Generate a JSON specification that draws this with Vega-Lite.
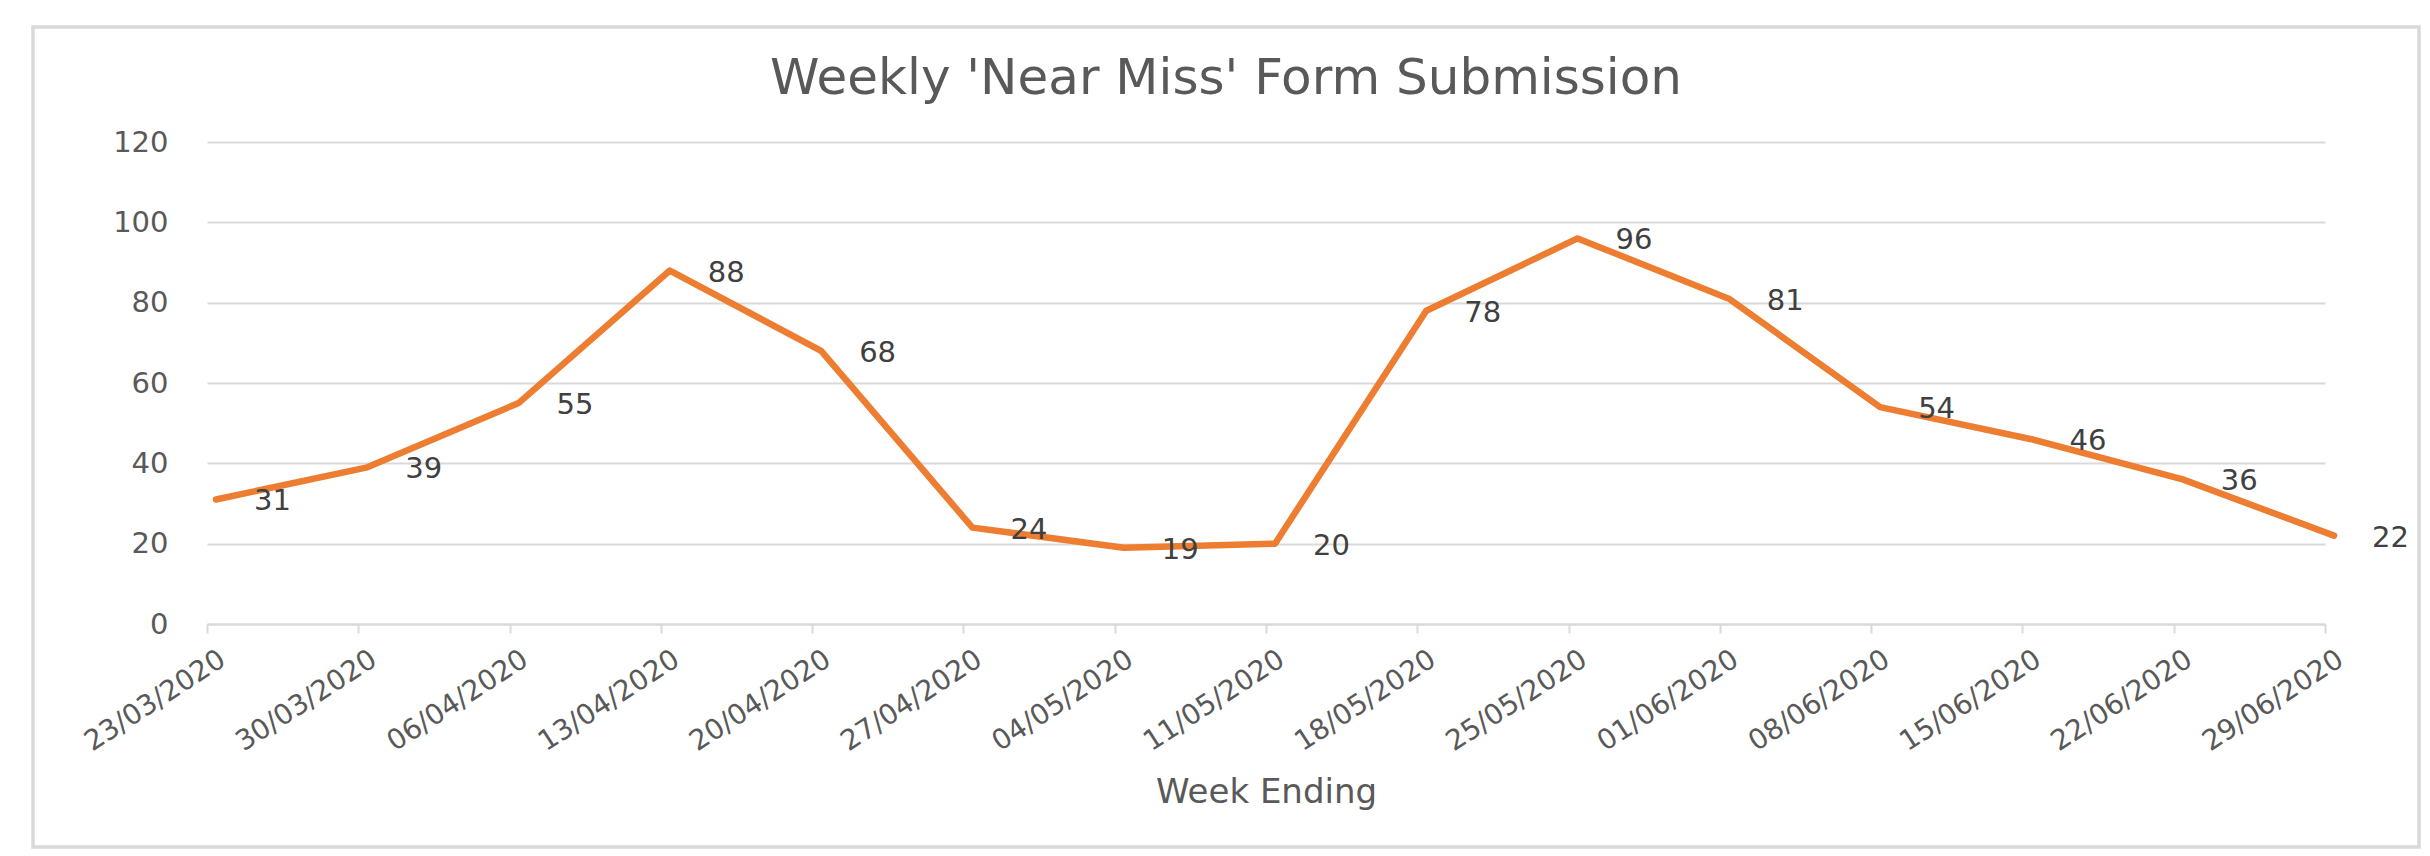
{
  "$schema": "https://vega.github.io/schema/vega-lite/v6.json",
  "autosize": {"type": "none"},
  "width": 2386,
  "height": 820,
  "padding": {"left": 33, "top": 27, "right": 11, "bottom": 9},
  "background": "white",
  "title": {
    "text": "Weekly 'Near Miss' Form Submission",
    "anchor": "middle",
    "frame": "group",
    "offset": -117,
    "baseline": "alphabetic",
    "font": "DejaVu Sans",
    "fontSize": 50,
    "fontWeight": "normal",
    "color": "#595959"
  },
  "config": {
    "font": "DejaVu Sans",
    "view": {"stroke": "#D9D9D9", "strokeWidth": 3.5}
  },
  "data": {
    "values": [
      {"week": "23/03/2020", "count": 31},
      {"week": "30/03/2020", "count": 39},
      {"week": "06/04/2020", "count": 55},
      {"week": "13/04/2020", "count": 88},
      {"week": "20/04/2020", "count": 68},
      {"week": "27/04/2020", "count": 24},
      {"week": "04/05/2020", "count": 19},
      {"week": "11/05/2020", "count": 20},
      {"week": "18/05/2020", "count": 78},
      {"week": "25/05/2020", "count": 96},
      {"week": "01/06/2020", "count": 81},
      {"week": "08/06/2020", "count": 54},
      {"week": "15/06/2020", "count": 46},
      {"week": "22/06/2020", "count": 36},
      {"week": "29/06/2020", "count": 22}
    ]
  },
  "encoding": {
    "x": {
      "field": "week",
      "type": "ordinal",
      "sort": null,
      "scale": {"type": "point", "range": [174, 2292], "padding": 0},
      "axis": {
        "title": "Week Ending",
        "titleFont": "DejaVu Sans",
        "titleFontSize": 34,
        "titleFontWeight": "normal",
        "titleColor": "#595959",
        "titleY": 168,
        "titleBaseline": "middle",
        "labelAngle": -33,
        "labelAlign": "right",
        "labelBaseline": "top",
        "labelOffset": 8,
        "labelPadding": 12,
        "labelFont": "DejaVu Sans",
        "labelFontSize": 28,
        "labelColor": "#595959",
        "labelOverlap": false,
        "ticks": true,
        "tickSize": 9,
        "tickColor": "#D9D9D9",
        "tickWidth": 2,
        "domainColor": "#D9D9D9",
        "domainWidth": 2,
        "grid": false,
        "offset": -223
      }
    },
    "y": {
      "field": "count",
      "type": "quantitative",
      "scale": {"domain": [0, 120], "range": [597, 115], "nice": false},
      "axis": {
        "title": null,
        "values": [0, 20, 40, 60, 80, 100, 120],
        "domain": false,
        "ticks": false,
        "grid": true,
        "gridColor": "#D9D9D9",
        "gridWidth": 2,
        "labelFont": "DejaVu Sans",
        "labelFontSize": 29,
        "labelColor": "#595959",
        "labelPadding": 39,
        "offset": -174
      }
    }
  },
  "layer": [
    {
      "mark": {"type": "line", "color": "#ED7D31", "strokeWidth": 6.5, "strokeCap": "round", "strokeJoin": "round", "xOffset": 9}
    },
    {
      "mark": {"type": "text", "align": "left", "baseline": "middle", "dx": 47, "dy": 2, "font": "DejaVu Sans", "fontSize": 29, "color": "#404040"},
      "encoding": {"text": {"field": "count", "type": "quantitative"}}
    }
  ]
}
